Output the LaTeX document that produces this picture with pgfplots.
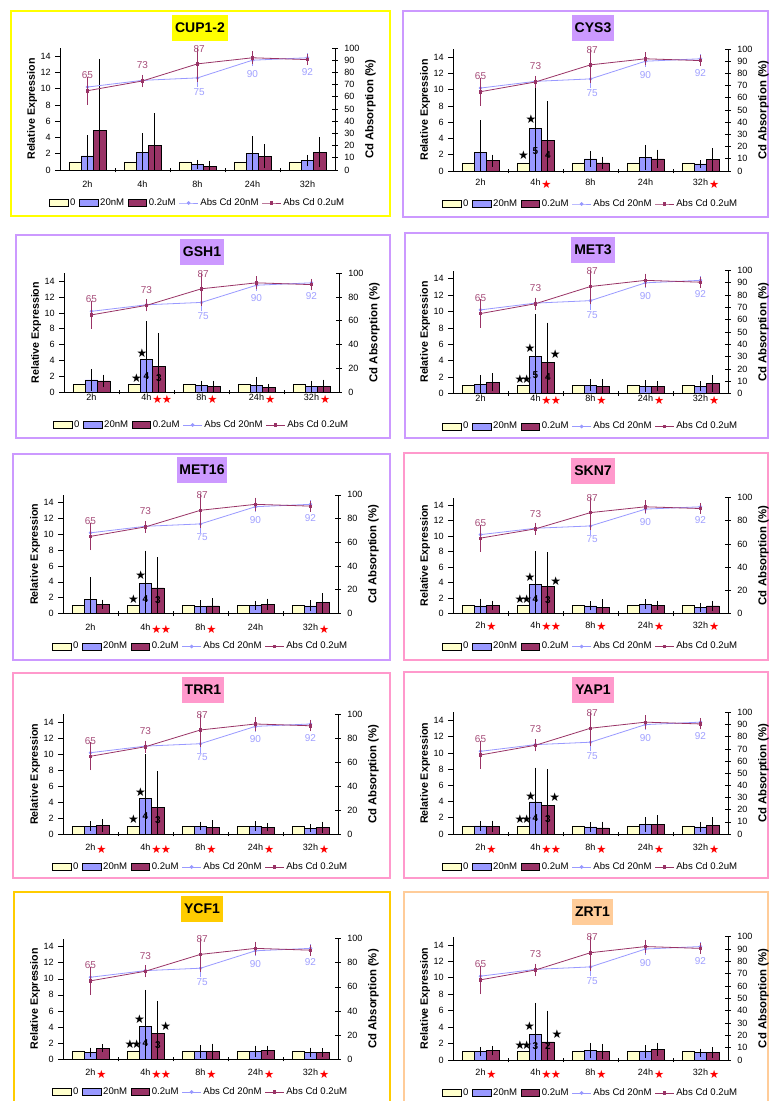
\documentclass[border=0pt]{standalone}
\usepackage{pgfplots}
\pgfplotsset{compat=1.18}
\usepackage{pgfplotstable}
\usepackage{fontspec}
\setmainfont{Liberation Sans}
\newfontfamily\djv{DejaVu Sans}

\definecolor{cZero}{HTML}{FFFFCC}
\definecolor{cLow}{HTML}{9999FF}
\definecolor{cHigh}{HTML}{993366}
\definecolor{cLabLow}{HTML}{A0A0FF}
\definecolor{cLabHigh}{HTML}{A64D79}
\definecolor{fYellow}{HTML}{FFFF00}
\definecolor{fPurple}{HTML}{CC99FF}
\definecolor{fPink}{HTML}{FF99CC}
\definecolor{fGold}{HTML}{FFCC00}
\definecolor{fPeach}{HTML}{FFCC99}

\newcommand\fs[1]{\fontsize{#1}{#1}\selectfont}

% absorption lines (right axis, %)
\pgfplotstableread{
x a ae b be
0 68 1.5 65 9
1 73.5 2 73 2.5
2 75.5 5 87 12
3 90 2 92 3
4 92 1 90.5 2
}\linedata

% bars: x, 0, 20nM, err, 0.2uM, err
\pgfplotstableread{
x z l le h he
0 1 1.74 2.16 4.85 8.45
1 1 2.2 1.95 3.0 3.6
2 1 0.66 0.2 0.41 0.35
3 1 2.03 1.74 1.7 1.08
4 1 1.16 0.33 2.2 1.5
}\tCUP
\pgfplotstableread{
x z l le h he
0 1 2.3 3.55 1.28 0.37
1 1 5.25 5.75 3.8 4.4
2 1 1.49 0.6 1.0 0.4
3 1 1.7 1.15 1.49 0.75
4 1 0.87 0.1 1.4 1.04
}\tCYS
\pgfplotstableread{
x z l le h he
0 1 1.53 0.98 1.4 0.42
1 1 4.07 4.5 3.22 3.86
2 1 0.8 0.25 0.72 0.34
3 1 0.8 0.73 0.55 0.1
4 1 0.72 0.34 0.68 0.5
}\tGSH
\pgfplotstableread{
x z l le h he
0 1 1.15 0.7 1.4 0.7
1 1 4.49 4.8 3.83 4.45
2 1 1.03 0.37 0.9 0.5
3 1 0.9 0.33 0.9 0.25
4 1 0.9 0.25 1.23 0.62
}\tMETt
\pgfplotstableread{
x z l le h he
0 1 1.77 2.4 1.18 0.2
1 1 3.83 3.74 3.24 3.5
2 1 0.88 0.38 0.97 0.55
3 1 1.05 0.17 1.18 0.3
4 1 0.97 0.3 1.35 0.84
}\tMETs
\pgfplotstableread{
x z l le h he
0 1 0.99 0.55 1.08 0.2
1 1 3.79 3.88 3.45 4.1
2 1 0.99 0.2 0.82 0.6
3 1 1.2 0.22 1.08 0.2
4 1 0.82 0.17 0.99 0.26
}\tSKN
\pgfplotstableread{
x z l le h he
0 1 1.0 0.2 1.08 0.42
1 1 4.46 5.17 3.29 4.17
2 1 1.0 0.17 0.83 0.5
3 1 1.0 0.2 0.83 0.13
4 1 0.75 0.08 0.87 0.3
}\tTRR
\pgfplotstableread{
x z l le h he
0 1 1.0 0.25 0.96 0.3
1 1 3.95 3.87 3.49 4.1
2 1 0.87 0.2 0.75 0.4
3 1 1.16 0.54 1.16 0.75
4 1 0.87 0.25 1.04 0.66
}\tYAP
\pgfplotstableread{
x z l le h he
0 1 0.83 0.2 1.33 0.12
1 1 4.1 4.14 3.19 3.69
2 1 0.95 0.38 0.95 0.58
3 1 0.95 0.33 1.08 0.2
4 1 0.83 0.2 0.79 0.16
}\tYCF
\pgfplotstableread{
x z l le h he
0 1 1.02 0.2 1.14 0.2
1 1 3.14 3.43 2.2 3.43
2 1 1.14 0.57 1.02 0.57
3 1 1.02 0.41 1.3 0.41
4 1 0.9 0.12 0.9 0.25
}\tZRT

\pgfplotsset{
  barleg/.style={legend image code/.code={\draw[##1,draw=black,line width=0.5pt] (0pt,-2.6pt) rectangle (14pt,2.6pt);}},
  barax/.style={
    scale only axis, width=206.25pt, anchor=south west,
    xmin=-0.5, xmax=4.5, ymin=0, ymax=15,
    axis x line*=bottom, axis y line*=left,
    axis line style={-, black, line width=0.5pt},
    ybar, bar width=0.225,
    xtick={0.5,1.5,2.5,3.5}, xticklabels={},
    extra x ticks={0,1,2,3,4}, extra x tick labels={2h,4h,8h,24h,32h},
    extra x tick style={major tick length=0pt},
    xtick align=center, ytick align=outside, major tick length=3.5pt,
    ytick={0,2,...,14},
    tick style={black, line width=0.5pt},
    /pgf/number format/assume math mode=true,
    tick label style={font=\fs{6.8}},
    xticklabel style={anchor=center, yshift=-\labsh*0.75pt},
    ylabel={Relative Expression},
    every axis y label/.style={at={(rel axis cs:0,0.5)}, rotate=90, anchor=center, yshift=21pt, font=\bfseries\fs{8}},
    clip mode=individual,
  },
  lineax/.style={
    scale only axis, width=206.25pt, anchor=south west,
    xmin=-0.5, xmax=4.5, ymin=0, ymax=100,
    axis x line=none, axis y line*=right, xtick=\empty,
    axis line style={-, black, line width=0.5pt},
    ytick align=center, major tick length=4pt,
    tick style={black, line width=0.5pt},
    /pgf/number format/assume math mode=true,
    tick label style={font=\fs{6.8}},
    yticklabel style={xshift=1.5pt},
    ylabel={Cd Absorption (\%)},
    every axis y label/.style={at={(rel axis cs:1,0.5)}, rotate=90, anchor=center, yshift=-26.5pt, font=\bfseries\fs{8.5}},
    clip mode=individual,
    legend columns=5,
    legend style={at={(0.5,0)}, anchor=center, yshift=-24.75pt, draw=none, fill=none,
      font=\fs{7.2}, inner sep=0pt, nodes={inner xsep=1.5pt},
      /tikz/every even column/.append style={column sep=1pt}},
    legend image code/.code={\draw[mark repeat=2,mark phase=2,##1] plot coordinates {(0pt,0pt) (7pt,0pt) (14pt,0pt)};},
  },
}

% black star, red star (below axis), number inside bar
\newcommand\bs[2]{\node[font=\djv\fs{9}, inner sep=0pt] at (axis cs:#1,#2) {★};}
\newcommand\rs[1]{\node[text=red, font=\djv\fs{8.5}, inner sep=0pt, yshift=-(\labsh+2)*0.75pt] at (axis cs:#1,0) {★};}
\newcommand\bn[3]{\node[font=\bfseries\fs{7.5}, inner sep=0pt] at (axis cs:#1,#2) {#3};}

% #1 left px, #2 bottom px, #3 height, #4 table, #5 right tick step, #6 annotations, #7 label shift px
\newcommand\panel[7]{%
  \def\labsh{#7}%
  \begin{axis}[barax, at={(#1*0.75pt,-#2*0.75pt)}, height=#3]
    \addplot[fill=cZero, draw=black, line width=0.5pt, bar shift=-0.225] table[x=x,y=z]{#4};
    \addplot[fill=cLow, draw=black, line width=0.5pt, bar shift=0,
      error bars/.cd, y dir=both, y explicit,
      error bar style={black, line width=0.6pt}, error mark options={black, mark size=2.3pt, line width=0.6pt}]
      table[x=x,y=l,y error=le]{#4};
    \addplot[fill=cHigh, draw=black, line width=0.5pt, bar shift=0.225,
      error bars/.cd, y dir=both, y explicit,
      error bar style={black, line width=0.6pt}, error mark options={black, mark size=2.3pt, line width=0.6pt}]
      table[x=x,y=h,y error=he]{#4};
    #6
  \end{axis}
  \begin{axis}[lineax, at={(#1*0.75pt,-#2*0.75pt)}, height=#3, ytick distance=#5]
    \addlegendimage{barleg, fill=cZero}\addlegendentry{0}
    \addlegendimage{barleg, fill=cLow}\addlegendentry{20nM}
    \addlegendimage{barleg, fill=cHigh}\addlegendentry{0.2uM}
    \addplot[color=cLow, line width=0.6pt, mark=*, mark size=1pt,
      error bars/.cd, y dir=both, y explicit, error mark options={mark size=2.3pt, line width=0.6pt}]
      table[x=x,y=a,y error=ae]{\linedata};
    \addlegendentry{Abs Cd 20nM}
    \addplot[color=cHigh, line width=0.6pt, mark=square*, mark size=0.9pt,
      error bars/.cd, y dir=both, y explicit, error mark options={mark size=2.3pt, line width=0.6pt}]
      table[x=x,y=b,y error=be]{\linedata};
    \addlegendentry{Abs Cd 0.2uM}
    \node[text=cLabHigh, font=\fs{7.5}] at (axis cs:0,78) {65};
    \node[text=cLabHigh, font=\fs{7.5}] at (axis cs:1,86) {73};
    \node[text=cLabHigh, font=\fs{7.5}] at (axis cs:2.03,99.5) {87};
    \node[text=cLabLow, font=\fs{7.5}] at (axis cs:2.03,64) {75};
    \node[text=cLabLow, font=\fs{7.5}] at (axis cs:3,79) {90};
    \node[text=cLabLow, font=\fs{7.5}] at (axis cs:4,80.5) {92};
  \end{axis}
}

\newcommand\frm[5]{\draw[#1, line width=1.5pt] (#2*0.75pt,-#3*0.75pt) rectangle (#4*0.75pt,-#5*0.75pt);}
\newcommand\frmopen[4]{\draw[#1, line width=1.5pt] (#2*0.75pt,-1106*0.75pt) -- (#2*0.75pt,-#3*0.75pt) -- (#4*0.75pt,-#3*0.75pt) -- (#4*0.75pt,-1106*0.75pt);}
\newcommand\ttl[4]{\node[fill=#1, font=\bfseries\fs{10.5}, minimum height=19.5pt, inner xsep=2.2pt, inner ysep=0pt] at (#2*0.75pt,-#3*0.75pt) {#4};}

\begin{document}
\begin{tikzpicture}
\useasboundingbox (0,0) rectangle (577.5pt,-825.75pt);
\fill[white] (0,0) rectangle (577.5pt,-825.75pt);

% frames and titles
\frm{fYellow}{11}{11}{390}{216}
\frm{fPurple}{403}{11}{768}{217}
\frm{fPurple}{16}{235}{390}{438}
\frm{fPurple}{405}{233}{768}{438}
\frm{fPurple}{13}{454}{390}{660}
\frm{fPink}{404}{453}{768}{660}
\frm{fPink}{13}{673}{390}{878}
\frm{fPink}{404}{672}{768}{878}
\frmopen{fGold}{14}{892}{390}
\frmopen{fPeach}{404}{892}{768}

\ttl{fYellow}{200}{28}{CUP1-2}
\ttl{fPurple}{593}{28}{CYS3}
\ttl{fPurple}{202}{252}{GSH1}
\ttl{fPurple}{593}{250}{MET3}
\ttl{fPurple}{202}{470}{MET16}
\ttl{fPink}{593}{471}{SKN7}
\ttl{fPink}{203}{690}{TRR1}
\ttl{fPink}{593}{690}{YAP1}
\ttl{fGold}{202}{909}{YCF1}
\ttl{fPeach}{592.5}{912}{ZRT1}

% CUP1-2
\panel{60}{170}{91.5pt}{\tCUP}{10}{}{14.5}
% CYS3
\panel{453}{171}{91.5pt}{\tCYS}{10}{%
  \bs{0.78}{2.0}\bs{0.92}{6.35}\bn{1}{2.5}{5}\bn{1.225}{1.95}{4}%
  \rs{1.2}\rs{4.25}}{11}
% GSH1
\panel{64}{392}{89pt}{\tGSH}{20}{%
  \bs{0.82}{1.8}\bs{0.92}{4.9}\bn{1}{2.0}{4}\bn{1.225}{1.75}{3}%
  \rs{1.2}\rs{1.37}\rs{2.2}\rs{3.25}\rs{4.25}}{5.5}
% MET3
\panel{453}{393.5}{92.25pt}{\tMETt}{10}{%
  \bs{0.72}{1.8}\bs{0.84}{1.8}\bs{0.9}{5.5}\bs{1.36}{4.85}\bn{1}{2.3}{5}\bn{1.225}{2.0}{4}%
  \rs{1.2}\rs{1.37}\rs{2.2}\rs{3.25}\rs{4.25}}{5}
% MET16
\panel{63}{613.5}{89pt}{\tMETs}{20}{%
  \bs{0.78}{1.75}\bs{0.915}{4.8}\bn{1}{1.85}{4}\bn{1.225}{1.65}{3}%
  \rs{1.2}\rs{1.37}\rs{2.2}\rs{4.25}}{14}
% SKN7
\panel{453}{613.5}{87pt}{\tSKN}{20}{%
  \bs{0.72}{1.85}\bs{0.84}{1.85}\bs{0.9}{4.7}\bs{1.37}{4.2}\bn{1}{1.85}{4}\bn{1.225}{1.75}{3}%
  \rs{0.2}\rs{1.2}\rs{1.37}\rs{2.2}\rs{3.25}\rs{4.25}}{11.3}
% TRR1
\panel{63}{834}{89.7pt}{\tTRR}{20}{%
  \bs{0.78}{1.9}\bs{0.91}{5.2}\bn{1}{2.3}{4}\bn{1.225}{1.8}{3}%
  \rs{0.2}\rs{1.2}\rs{1.37}\rs{2.2}\rs{3.25}\rs{4.25}}{13.3}
% YAP1
\panel{453}{834}{91.2pt}{\tYAP}{10}{%
  \bs{0.72}{1.85}\bs{0.84}{1.85}\bs{0.915}{4.65}\bs{1.35}{4.5}\bn{1}{2.0}{4}\bn{1.225}{1.8}{3}%
  \rs{0.2}\rs{1.2}\rs{1.37}\rs{2.2}\rs{3.25}\rs{4.25}}{13}
% YCF1
\panel{63}{1059}{90.2pt}{\tYCF}{20}{%
  \bs{0.72}{1.8}\bs{0.84}{1.8}\bs{0.89}{4.95}\bs{1.37}{4.1}\bn{1}{2.0}{4}\bn{1.225}{1.7}{3}%
  \rs{0.2}\rs{1.2}\rs{1.37}\rs{2.2}\rs{3.25}\rs{4.25}}{13.3}
% ZRT1
\panel{453}{1060}{92.5pt}{\tZRT}{10}{%
  \bs{0.72}{1.75}\bs{0.84}{1.75}\bs{0.89}{4.1}\bs{1.39}{3.2}\bn{1}{1.65}{3}\bn{1.225}{1.65}{2}%
  \rs{0.2}\rs{1.2}\rs{1.37}\rs{2.2}\rs{3.25}\rs{4.25}}{12.7}
\end{tikzpicture}
\end{document}
